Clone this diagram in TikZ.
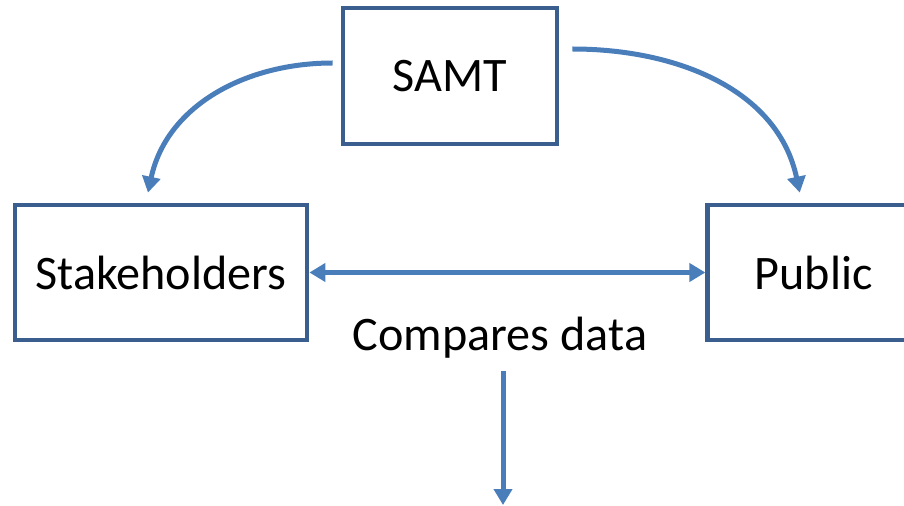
\documentclass[tikz,border=0pt]{standalone}
\usepackage{fontspec}
\setmainfont{Carlito}
\usetikzlibrary{arrows.meta,positioning}
\definecolor{boxblue}{HTML}{3A5F8E}
\definecolor{arrowblue}{HTML}{4A7EBB}
\tikzset{>={Triangle[length=0.32cm,width=0.36cm]}}
\tikzset{entity/.style={draw=boxblue, line width=0.095cm, rectangle, align=center}}
\tikzset{flow/.style={->, draw=arrowblue, line width=0.1cm}}

\begin{document}
\begin{tikzpicture}[node distance = 7.92cm, font=\fontsize{27.4}{32}\selectfont]
    \useasboundingbox (0,0) rectangle (18.08,10.1);
    \node[entity, minimum width=5.84cm, minimum height=2.7cm] (Stake) at (3.22,4.65) {Stakeholders};
    \node[entity, minimum width=4.28cm, minimum height=2.72cm] (SAMT) at (9.0,8.58) {SAMT};
    \node[entity, minimum width=4.24cm, minimum height=2.7cm] (Public) [right = of Stake] {Public};
    \node (Compare) at (10.0,3.34) {Compares data};
    \coordinate (Out) at (10.06,0);
    \draw[flow] ([shift={(-0.16,0.26)}]SAMT.west) to[out=180, in=78] ([shift={(-0.26,0.2)}]Stake.north);
    \draw[flow] ([shift={(0.26,0.54)}]SAMT.east) to[out=0, in=102] ([shift={(-0.28,0.2)}]Public.north);
    \draw[flow, <->] (Stake.east) -- (Public.west);
    \draw[flow] (Compare.south -| Out) ++(0,-0.12) -- (Out);
  \end{tikzpicture}
\end{document}
